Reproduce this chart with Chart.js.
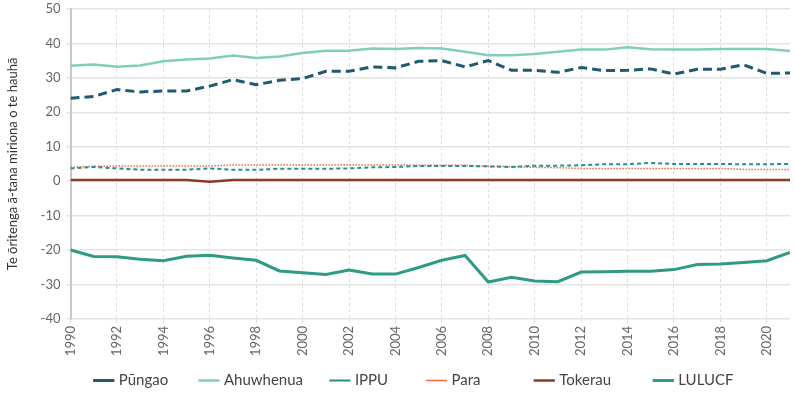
<!DOCTYPE html>
<html lang="mi">
<head>
    <meta charset="UTF-8">
    <title>Tukunga hauhā</title>
    <script src="https://cdn.jsdelivr.net/npm/chart.js"></script>
    <style>
        html, body { margin: 0; padding: 0; background: #ffffff; }
        #wrap { width: 795px; height: 398px; }
    </style>
</head>
<body>
    <div id="wrap"><canvas id="emissionsChart"></canvas></div>

    <script>
        // Tau
        const years = [1990, 1991, 1992, 1993, 1994, 1995, 1996, 1997, 1998, 1999, 2000,
            2001, 2002, 2003, 2004, 2005, 2006, 2007, 2008, 2009, 2010,
            2011, 2012, 2013, 2014, 2015, 2016, 2017, 2018, 2019, 2020, 2021];

        // Series values (Mt CO2-e)
        const pungao = [24.1, 24.6, 26.6, 25.9, 26.2, 26.2, 27.6, 29.5, 28.0, 29.3, 29.8,
            31.9, 31.9, 33.2, 32.9, 34.8, 35.0, 33.2, 35.0, 32.2, 32.2,
            31.6, 33.0, 32.1, 32.2, 32.6, 31.1, 32.5, 32.5, 33.8, 31.3, 31.4];
        const ahuwhenua = [33.5, 33.9, 33.2, 33.6, 34.8, 35.3, 35.6, 36.5, 35.8, 36.2, 37.2,
            37.9, 37.9, 38.5, 38.4, 38.7, 38.5, 37.6, 36.6, 36.6, 36.9,
            37.6, 38.2, 38.2, 38.9, 38.3, 38.2, 38.2, 38.4, 38.4, 38.4, 37.8];
        const ippu = [3.7, 4.1, 3.7, 3.3, 3.3, 3.3, 3.7, 3.3, 3.3, 3.6, 3.6,
            3.6, 3.7, 4.0, 4.1, 4.4, 4.4, 4.4, 4.3, 4.1, 4.5,
            4.5, 4.6, 4.9, 4.9, 5.3, 5.0, 5.0, 5.0, 4.9, 4.9, 5.0];
        const para = [4.0, 4.3, 4.4, 4.4, 4.4, 4.4, 4.4, 4.7, 4.7, 4.7, 4.7,
            4.7, 4.7, 4.7, 4.7, 4.6, 4.6, 4.6, 4.3, 4.2, 4.0,
            3.9, 3.7, 3.7, 3.7, 3.7, 3.7, 3.7, 3.7, 3.4, 3.4, 3.4];
        const tokerau = [0.3, 0.3, 0.3, 0.3, 0.3, 0.3, -0.2, 0.3, 0.3, 0.3, 0.3,
            0.3, 0.3, 0.3, 0.3, 0.3, 0.3, 0.3, 0.3, 0.3, 0.3,
            0.3, 0.3, 0.3, 0.3, 0.3, 0.3, 0.3, 0.3, 0.3, 0.3, 0.3];
        const lulucf = [-20.0, -21.9, -22.0, -22.7, -23.1, -21.8, -21.5, -22.3, -23.0, -26.1, -26.6,
            -27.1, -25.8, -27.0, -27.0, -25.1, -23.0, -21.6, -29.3, -27.9, -29.0,
            -29.2, -26.4, -26.3, -26.2, -26.2, -25.7, -24.2, -24.1, -23.6, -23.1, -20.7];

        const yTitle = 'Te ōritenga ā-tana miriona o te hauhā';

        // legend: width of each item's cell (marker start to next marker start), original spacing is uneven
        const legendCells = [110, 137, 101, 111, 124, 128];
        const legendFont = '15px Lato';
        const legendPad = 14;
        const legendBox = 20;

        const toPoints = (vals) => vals.map((v, i) => ({ x: years[i], y: v }));

        function series(label, vals, color, width, dash) {
            return {
                label: label,
                data: toPoints(vals),
                borderColor: color,
                backgroundColor: color,
                borderWidth: width,
                borderDash: dash,
                pointRadius: 0,
                tension: 0,
                fill: false,
                pointStyle: 'line'
            };
        }

        const ctx = document.getElementById('emissionsChart').getContext('2d');

        // pad a label with spaces so its legend cell gets the wanted width
        function padLabel(text, cell) {
            ctx.save();
            ctx.font = legendFont;
            const spaceW = (ctx.measureText('a a').width - ctx.measureText('aa').width) || 3.5;
            const target = cell - legendPad - legendBox - 7.5;
            const n = Math.max(0, Math.round((target - ctx.measureText(text).width) / spaceW));
            ctx.restore();
            return text + ' '.repeat(n);
        }

        new Chart(ctx, {
            type: 'line',
            data: {
                datasets: [
                    series('Pūngao', pungao, '#1f5a70', 3, [9, 5]),
                    series('Ahuwhenua', ahuwhenua, '#7fcfbb', 2.5, []),
                    series('IPPU', ippu, '#25908f', 2, [4, 3]),
                    series('Para', para, '#ef6a3c', 1.5, [1.5, 1.5]),
                    series('Tokerau', tokerau, '#8b3a24', 2.5, []),
                    series('LULUCF', lulucf, '#2f9b84', 3, [])
                ]
            },
            options: {
                responsive: true,
                maintainAspectRatio: false,
                animation: false,
                layout: { padding: { left: 3, right: 5, top: 0, bottom: 0 } },
                plugins: {
                    tooltip: { enabled: false },
                    legend: {
                        position: 'bottom',
                        fullSize: false,
                        labels: {
                            usePointStyle: true,
                            boxWidth: legendBox,
                            padding: legendPad,
                            color: '#444444',
                            font: { family: 'Lato', size: 15 },
                            generateLabels: (chart) => {
                                const items = Chart.defaults.plugins.legend.labels.generateLabels(chart);
                                items.forEach((it, i) => { it.text = padLabel(it.text, legendCells[i]); });
                                return items;
                            }
                        }
                    }
                },
                scales: {
                    x: {
                        type: 'linear',
                        min: 1990,
                        max: 2021,
                        grid: { color: '#dddddd', lineWidth: 1, tickLength: 4 },
                        border: { display: false, dash: [3, 3] },
                        ticks: {
                            stepSize: 2,
                            includeBounds: false,
                            minRotation: 90,
                            maxRotation: 90,
                            color: '#666666',
                            font: { family: 'Lato', size: 13 },
                            callback: (v) => String(v)
                        }
                    },
                    y: {
                        min: -40,
                        max: 50,
                        grid: { color: '#e3e3e3', lineWidth: 1.5, tickLength: 4 },
                        border: { display: true, color: '#c8c8c8', width: 2 },
                        ticks: {
                            stepSize: 10,
                            padding: 6,
                            color: '#666666',
                            font: { family: 'Lato', size: 13 }
                        },
                        title: {
                            display: true,
                            text: yTitle,
                            color: '#333333',
                            font: { family: 'Lato', size: 13 },
                            padding: { top: 2, bottom: 14 }
                        },
                        // keep the top of the plot close to the canvas edge
                        afterFit: (scale) => { scale.paddingTop = 9; }
                    }
                }
            }
        });
    </script>
</body>
</html>
